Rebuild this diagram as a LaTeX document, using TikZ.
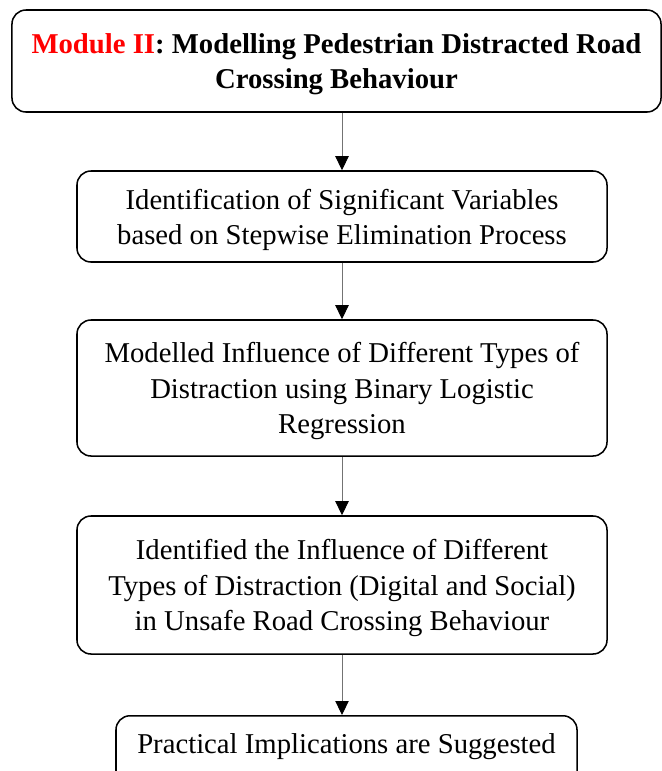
\documentclass[tikz,border=0pt]{standalone}
\usepackage{fontspec}
\setmainfont{Liberation Serif}
\usepackage{tikz}
\usetikzlibrary{arrows.meta,positioning}

\tikzset{
  stagebox/.style={draw=black,line width=1.3pt,rounded corners=0.42cm,fill=white,align=center,
    font=\fontsize{24.5}{30}\selectfont,inner sep=2pt,text depth=0pt},
  flowarrow/.style={draw=black!55,line width=0.8pt,-{Triangle[length=0.42cm,width=0.4cm,fill=black,color=black]}}
}

\begin{document}
\begin{tikzpicture}[x=0.03cm,y=-0.03cm]
\useasboundingbox (0,0) rectangle (662,771);
\node[stagebox,minimum width=19.47cm,minimum height=3.06cm,font=\bfseries\fontsize{24.5}{30}\selectfont] (mod) at (336.5,61) {\textcolor{red}{Module II}: Modelling Pedestrian Distracted Road\\Crossing Behaviour};
\node[stagebox,minimum width=15.9cm,minimum height=2.73cm] (sig) at (342,216.5) {Identification of Significant Variables\\based on Stepwise Elimination Process};
\node[stagebox,minimum width=15.9cm,minimum height=4.08cm] (reg) at (342,388) {Modelled Influence of Different Types of\\Distraction using Binary Logistic\\Regression};
\node[stagebox,minimum width=15.9cm,minimum height=4.14cm] (inf) at (342,585) {Identified the Influence of Different\\Types of Distraction (Digital and Social)\\in Unsafe Road Crossing Behaviour};
\node[stagebox,minimum width=13.83cm,anchor=north,text height=1.07cm,text depth=1.0cm] (imp) at (346.5,715) {Practical Implications are Suggested};
\draw[flowarrow] (sig.north |- mod.south)--(sig.north);
\draw[flowarrow] (sig.south)--(reg.north);
\draw[flowarrow] (reg.south)--(inf.north);
\draw[flowarrow] (inf.south)--(inf.south |- imp.north);
\end{tikzpicture}
\end{document}
